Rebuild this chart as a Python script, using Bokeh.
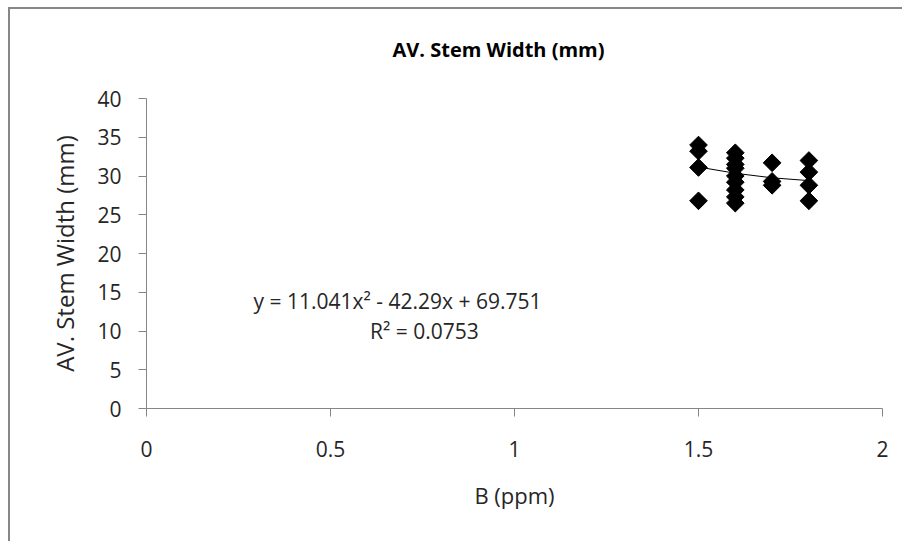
import math
from bokeh.plotting import figure
from bokeh.models import Range1d, FixedTicker, Label, Title
from bokeh.embed import file_html
from bokeh.resources import INLINE

# data
x_vals = [1.5, 1.5, 1.5, 1.5,
          1.6, 1.6, 1.6, 1.6, 1.6, 1.6, 1.6, 1.6, 1.6,
          1.7, 1.7, 1.7,
          1.8, 1.8, 1.8, 1.8]
y_vals = [34.0, 33.2, 31.1, 26.8,
          33.0, 32.3, 31.5, 31.0, 30.0, 29.2, 28.2, 27.3, 26.5,
          31.7, 29.3, 28.8,
          32.0, 30.5, 28.8, 26.8]
# quadratic trendline coefficients (from the chart's equation)
coef_a, coef_b, coef_c = 11.041, -42.29, 69.751
trend_x = [1.5, 1.6, 1.7, 1.8]
trend_y = [coef_a * t * t + coef_b * t + coef_c for t in trend_x]
x_ticks = [0, 0.5, 1, 1.5, 2]
y_ticks = [0, 5, 10, 15, 20, 25, 30, 35, 40]
title_text = "AV. Stem Width (mm)"
eq_text = "y = 11.041x² - 42.29x + 69.751"
r2_text = "R² = 0.0753"

FONT = "Open Sans"
GRAY = "#868686"

p = figure(width=894, height=534, output_backend="svg", toolbar_location=None,
           title_location=None,
           x_range=Range1d(0, 2), y_range=Range1d(0, 40),
           min_border_left=136, min_border_right=22, min_border_top=89,
           min_border_bottom=135,
           styles={"margin-left": "8px", "margin-top": "7px",
                   "border-top": "2px solid #878787", "border-left": "2px solid #878787"})

# spacer title next to the frame, then the real title above it
p.add_layout(Title(text=" ", standoff=7, text_font=FONT, text_font_size="20px"), "above")
p.add_layout(Title(text=title_text, standoff=0, align="left", offset=246,
                   text_font=FONT, text_font_size="20px", text_font_style="bold",
                   text_color="#000000"), "above")

p.xgrid.visible = False
p.ygrid.visible = False
p.outline_line_color = None

p.xaxis.ticker = FixedTicker(ticks=x_ticks)
p.yaxis.ticker = FixedTicker(ticks=y_ticks)
p.xaxis.major_label_overrides = {0: "0", 0.5: "0.5", 1: "1", 1.5: "1.5", 2: "2"}
for ax in (p.xaxis, p.yaxis):
    ax.axis_line_color = GRAY
    ax.major_tick_line_color = GRAY
    ax.major_tick_in = 0
    ax.major_tick_out = 8
    ax.minor_tick_line_color = None
    ax.major_label_text_font = FONT
    ax.major_label_text_font_size = "21px"
    ax.major_label_text_color = "#262626"
    ax.axis_label_text_font = FONT
    ax.axis_label_text_font_size = "22px"
    ax.axis_label_text_font_style = "normal"
    ax.axis_label_text_color = "#262626"

p.yaxis.axis_label_text_font_size = "24px"
p.xaxis.axis_label = "B (ppm)"
p.yaxis.axis_label = "AV. Stem Width (mm)"
p.xaxis.major_label_standoff = 24
p.yaxis.major_label_standoff = 17
p.xaxis.axis_label_standoff = 20
p.yaxis.axis_label_standoff = 13

p.line(trend_x, trend_y, line_color="#000000", line_width=1)
p.scatter(x_vals, y_vals, marker="square", size=12.5, angle=math.pi / 4,
          fill_color="#000000", line_color="#000000")

p.add_layout(Label(x=0.682, y=13.9, text=eq_text, text_align="center",
                   text_baseline="middle", text_font=FONT, text_font_size="21px",
                   text_color="#262626"))
p.add_layout(Label(x=0.755, y=10.0, text=r2_text, text_align="center",
                   text_baseline="middle", text_font=FONT, text_font_size="21px",
                   text_color="#262626"))

open("out.html", "w").write(file_html(p, INLINE))
